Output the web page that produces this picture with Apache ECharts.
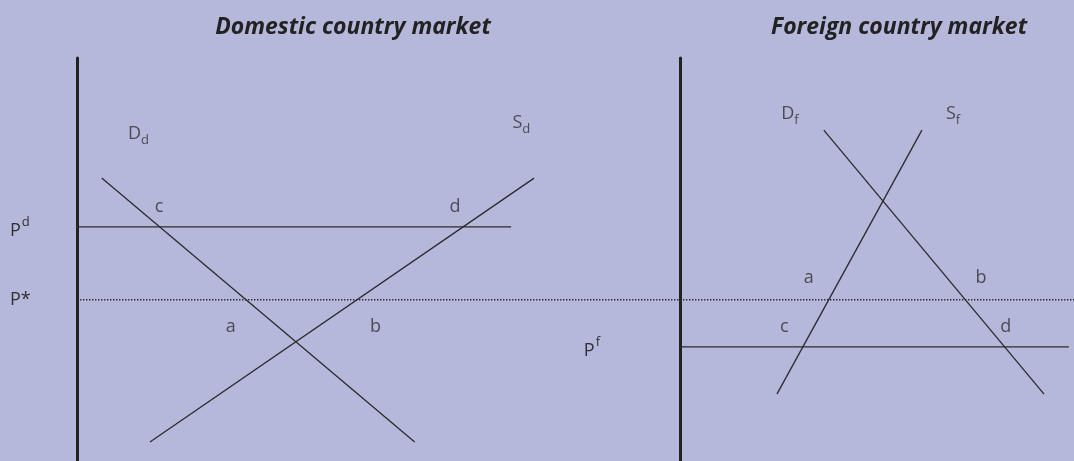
<!DOCTYPE html>
<html>
<head>
<meta charset="utf-8">
<script src="https://cdn.jsdelivr.net/npm/echarts@6/dist/echarts.min.js"></script>
<style>
  html, body { margin: 0; padding: 0; background: #b6b8db; }
  #chart { width: 1074px; height: 461px; }
</style>
</head>
<body>
<div id="chart"></div>
<script>
// 数据：x 为数量（0-100），y 为价格（0-100）
var domDemand = [[4.1, 70.2], [56.0, 4.7]];
var domSupply = [[12.1, 4.7], [75.8, 70.2]];
var domPrice = [[0, 58.1], [72.0, 58.1]];
var worldPrice = [[0, 40], [100, 40]];
var forDemand = [[36.5, 82.1], [92.4, 16.6]];
var forSupply = [[24.6, 16.6], [61.4, 82.1]];
var forPrice = [[0, 28.3], [98.7, 28.3]];

// 价格刻度标签
var domTicks = [58.1, 40];
var domTickLabels = ['{pl|P}{sup|d}', '{m|P*}'];
var forTicks = [28.3];
var forTickLabels = ['{pl|P}{sup|f}'];

// 曲线与交点标注
var domNotes = [[10.2, 81.1, '{m|D}{sub|d}'], [73.7, 83.9, '{m|S}{sub|d}'],
  [13.6, 63.0, 'c'], [62.7, 63.0, 'd'], [25.5, 33.3, 'a'], [49.5, 33.3, 'b']];
var forNotes = [[27.9, 86.1, '{m|D}{sub|f}'], [69.3, 86.1, '{m|S}{sub|f}'],
  [32.7, 45.4, 'a'], [76.4, 45.4, 'b'], [26.5, 33.3, 'c'], [82.7, 33.3, 'd']];

var FONT = '"Open Sans", "Noto Sans", sans-serif';
var INK = '#2b2b2b';
var TXT = '#303030';

var rich = {
  m: { fontSize: 18, fontFamily: FONT, color: TXT },
  pl: { fontSize: 18, fontFamily: FONT, color: TXT, padding: [8, 0, 0, 0] },
  sub: { fontSize: 13, fontFamily: FONT, color: TXT, padding: [13, 0, 0, 0] },
  sup: { fontSize: 13, fontFamily: FONT, color: TXT, padding: [0, 0, 9, 1] }
};

var myChart = echarts.init(document.getElementById('chart'));

function lineSeries(data, xi, dotted) {
  return {
    type: 'line',
    xAxisIndex: xi,
    yAxisIndex: xi,
    data: data,
    symbol: 'none',
    silent: true,
    animation: false,
    clip: false,
    lineStyle: {
      color: INK,
      width: dotted ? 1.4 : 1.3,
      type: dotted ? [1.4, 1.6] : 'solid'
    }
  };
}

function noteSeries(notes, xi) {
  return {
    type: 'scatter',
    xAxisIndex: xi,
    yAxisIndex: xi,
    symbolSize: 0,
    silent: true,
    animation: false,
    clip: false,
    data: notes.map(function (n) { return { value: [n[0], n[1]], name: n[2] }; }),
    label: {
      show: true,
      position: 'inside',
      formatter: function (p) { return p.name.indexOf('{') === 0 ? p.name : '{m|' + p.name + '}'; },
      rich: rich
    }
  };
}

function yAxisFor(gi, ticks, labels, margin, align) {
  return {
    type: 'value',
    gridIndex: gi,
    min: 0,
    max: 100,
    splitLine: { show: false },
    axisTick: { show: false },
    axisLine: { show: true, onZero: false, lineStyle: { color: '#222', width: 3 } },
    axisLabel: {
      customValues: ticks,
      margin: margin,
      align: align,
      formatter: function (v) {
        var i = ticks.indexOf(v);
        return i >= 0 ? labels[i] : '';
      },
      rich: rich
    }
  };
}

function xAxisFor(gi) {
  return {
    type: 'value',
    gridIndex: gi,
    min: 0,
    max: 100,
    show: false
  };
}

var titleStyle = { fontFamily: FONT, fontSize: 23, fontStyle: 'italic', fontWeight: 'bold', color: '#222' };

myChart.setOption({
  backgroundColor: '#b6b8db',
  title: [
    { text: 'Domestic country market', left: 348, top: 11, textAlign: 'center', textStyle: titleStyle },
    { text: 'Foreign country market', left: 894, top: 11, textAlign: 'center', textStyle: titleStyle }
  ],
  grid: [
    { left: 77, top: 58, width: 603, bottom: 0 },
    { left: 680, top: 58, right: 0, bottom: 0 }
  ],
  xAxis: [xAxisFor(0), xAxisFor(1)],
  yAxis: [
    yAxisFor(0, domTicks, domTickLabels, 67, 'left'),
    yAxisFor(1, forTicks, forTickLabels, 80, 'right')
  ],
  series: [
    lineSeries(worldPrice, 0, true),
    lineSeries(worldPrice, 1, true),
    lineSeries(domPrice, 0),
    lineSeries(domDemand, 0),
    lineSeries(domSupply, 0),
    lineSeries(forPrice, 1),
    lineSeries(forDemand, 1),
    lineSeries(forSupply, 1),
    noteSeries(domNotes, 0),
    noteSeries(forNotes, 1)
  ]
});
</script>
</body>
</html>
